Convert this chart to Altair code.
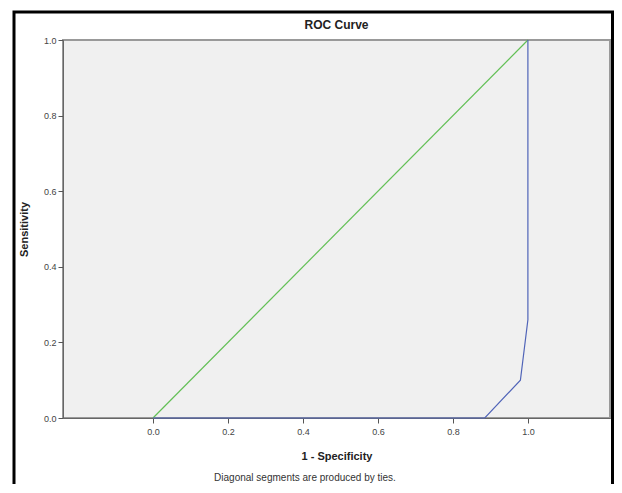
import altair as alt
import pandas as pd

# ROC curve points (1 - specificity, sensitivity)
roc_fpr = [0.0, 0.885, 0.98, 1.0, 1.0]
roc_tpr = [0.0, 0.0, 0.10, 0.26, 1.0]
# reference (diagonal) line
ref_fpr = [0.0, 1.0]
ref_tpr = [0.0, 1.0]
tick_vals = [0.0, 0.2, 0.4, 0.6, 0.8, 1.0]
title_text = "ROC Curve"
footnote = "Diagonal segments are produced by ties."

W, H = 547, 378
FONT = "Liberation Sans"

roc = pd.DataFrame({"x": roc_fpr, "y": roc_tpr, "i": list(range(len(roc_fpr)))})
ref = pd.DataFrame({"x": ref_fpr, "y": ref_tpr, "i": list(range(len(ref_fpr)))})

xscale = alt.Scale(domain=[-0.24, 1.219], nice=False, zero=False)
yscale = alt.Scale(domain=[0, 1], nice=False)

xaxis = alt.Axis(values=tick_vals, format=".1f", title="1 - Specificity", grid=False,
                 tickSize=5, labelPadding=4, titlePadding=14)
yaxis = alt.Axis(values=tick_vals, format=".1f", title="Sensitivity", grid=False,
                 tickSize=5, labelPadding=2, titlePadding=14)

ref_line = alt.Chart(ref).mark_line(color="#62bf55", strokeWidth=1.2).encode(
    x=alt.X("x:Q", scale=xscale, axis=xaxis),
    y=alt.Y("y:Q", scale=yscale, axis=yaxis),
    order="i:Q",
)
roc_line = alt.Chart(roc).mark_line(color="#5064b8", strokeWidth=1.2).encode(
    x=alt.X("x:Q", scale=xscale),
    y=alt.Y("y:Q", scale=yscale),
    order="i:Q",
)

border = alt.Chart(alt.Data(values=[{}])).mark_rect(
    fill=None, fillOpacity=0, stroke="black", strokeWidth=3
).encode(
    x=alt.value(-49), x2=alt.value(549.5), y=alt.value(-28), y2=alt.value(446)
)

title = alt.Chart(alt.Data(values=[{"t": title_text}])).mark_text(
    font=FONT, fontSize=12, fontWeight="bold", color="#222", align="center",
    baseline="middle"
).encode(x=alt.value(W / 2), y=alt.value(-15), text="t:N")

note = alt.Chart(alt.Data(values=[{"t": footnote}])).mark_text(
    font=FONT, fontSize=10, color="#333", align="center", baseline="middle"
).encode(x=alt.value(242), y=alt.value(438), text="t:N")

chart = alt.layer(ref_line, roc_line, border, title, note).properties(
    width=W, height=H,
    autosize=alt.AutoSizeParams(type="none"),
    padding={"left": 55, "top": 32, "right": 4, "bottom": 66},
).configure_view(
    fill="#f0f0f0", stroke="#999999", strokeWidth=2
).configure_axis(
    domainColor="#666666", tickColor="#555555", labelColor="#444444",
    labelFont=FONT, labelFontSize=9, titleFont=FONT, titleFontSize=11,
    titleFontWeight="bold", titleColor="#222222"
)

chart.save("out.html", embed_options={"renderer": "svg", "actions": False})
